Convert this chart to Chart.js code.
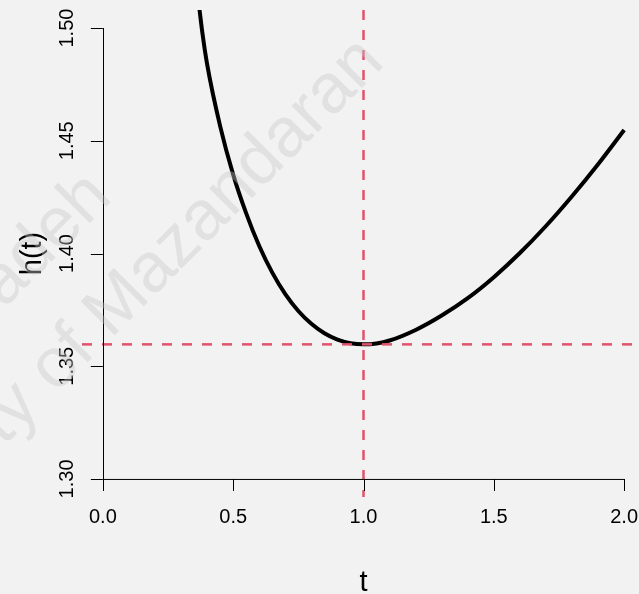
<!DOCTYPE html>
<html>
<head>
<meta charset="utf-8">
<script src="https://cdn.jsdelivr.net/npm/chart.js@4/dist/chart.umd.min.js"></script>
<style>
  html, body { margin: 0; padding: 0; background: #f2f2f2; overflow: hidden; }
  canvas { display: block; }
</style>
</head>
<body>
<canvas id="myChart" width="666" height="594" style="width:666px;height:594px"></canvas>
<script>
// curve h(t), values
var tValues = [0.37, 0.38, 0.40, 0.45, 0.50, 0.55, 0.60, 0.65, 0.70, 0.75, 0.80, 0.85, 0.90, 0.95,
               1.00, 1.05, 1.10, 1.20, 1.30, 1.40, 1.50, 1.60, 1.70, 1.80, 1.90, 2.00];
var hValues = [1.509, 1.4995, 1.484, 1.4565, 1.4350, 1.4178, 1.4033, 1.3915, 1.3820, 1.3745, 1.3688, 1.3646, 1.3618, 1.3602,
               1.3597, 1.3601, 1.3614, 1.3661, 1.3725, 1.3802, 1.3895, 1.4002, 1.4122, 1.4254, 1.4396, 1.4548];

// minimum marked by the dashed lines
var tMin = 1.0;
var hMin = 1.3597;

// axis ticks
var xTicks = [0.0, 0.5, 1.0, 1.5, 2.0];
var xTickLabels = ['0.0', '0.5', '1.0', '1.5', '2.0'];
var yTicks = [1.30, 1.35, 1.40, 1.45, 1.50];
var yTickLabels = ['1.30', '1.35', '1.40', '1.45', '1.50'];

var xRange = [-0.08, 2.08];
var yRange = [1.292, 1.508];

window.onload = function () {
    var curve = tValues.map(function (t, i) { return { x: t, y: hValues[i] }; });

    var red = '#DF536B';
    var font = '"Liberation Sans", Arial, Helvetica, sans-serif';

    var rPlot = {
        id: 'rPlot',
        beforeDraw: function (chart) {
            var c = chart.ctx;
            c.save();
            c.fillStyle = '#f2f2f2';
            c.fillRect(0, 0, chart.width, chart.height);
            c.restore();
        },
        afterDatasetsDraw: function (chart) {
            var c = chart.ctx;
            var xs = chart.scales.x, ys = chart.scales.y;
            var x0 = xs.getPixelForValue(0), yb = ys.getPixelForValue(1.30);
            c.save();
            c.strokeStyle = '#000';
            c.lineWidth = 1;
            c.lineCap = 'butt';

            // x axis drawn at h = 1.30
            c.beginPath();
            c.moveTo(xs.getPixelForValue(xTicks[0]), yb + 0.5);
            c.lineTo(xs.getPixelForValue(xTicks[xTicks.length - 1]), yb + 0.5);
            xTicks.forEach(function (v) {
                var px = Math.round(xs.getPixelForValue(v)) + 0.5;
                c.moveTo(px, yb);
                c.lineTo(px, yb + 12);
            });
            // y axis drawn at t = 0
            c.moveTo(Math.round(x0) + 0.5, ys.getPixelForValue(yTicks[0]));
            c.lineTo(Math.round(x0) + 0.5, ys.getPixelForValue(yTicks[yTicks.length - 1]));
            yTicks.forEach(function (v) {
                var py = Math.round(ys.getPixelForValue(v)) + 0.5;
                c.moveTo(x0, py);
                c.lineTo(x0 - 12, py);
            });
            c.stroke();

            c.fillStyle = '#000';
            c.font = '20px ' + font;
            c.textAlign = 'center';
            c.textBaseline = 'alphabetic';
            xTicks.forEach(function (v, i) {
                c.fillText(xTickLabels[i], xs.getPixelForValue(v), yb + 44);
            });
            yTicks.forEach(function (v, i) {
                c.save();
                c.translate(x0 - 30, ys.getPixelForValue(v));
                c.rotate(-Math.PI / 2);
                c.fillText(yTickLabels[i], 0, 0);
                c.restore();
            });

            // axis titles
            var area = chart.chartArea;
            c.font = '29px ' + font;
            c.fillText('t', (area.left + area.right) / 2, 591);
            c.save();
            c.translate(41, (area.top + area.bottom) / 2);
            c.rotate(-Math.PI / 2);
            c.fillText('h(t)', 0, 0);
            c.restore();
            c.restore();
        },
        afterDraw: function (chart) {
            // faint watermark over the figure
            var c = chart.ctx;
            c.save();
            c.fillStyle = 'rgba(200,200,200,0.4)';
            c.font = '70px ' + font;
            c.textAlign = 'right';
            c.textBaseline = 'alphabetic';
            c.translate(386, 64);
            c.rotate(-Math.PI / 4);
            c.fillText('University of Mazandaran', 0, 0);
            c.fillText('adeh', -288, -97);
            c.restore();
        }
    };

    var ctx = document.getElementById('myChart').getContext('2d');
    var myChart = new Chart(ctx, {
        type: 'scatter',
        data: {
            datasets: [{
                label: 'vline',
                data: [{ x: tMin, y: yRange[1] }, { x: tMin, y: yRange[0] }],
                showLine: true,
                borderColor: red,
                borderWidth: 2.5,
                borderDash: [10, 10],
                pointRadius: 0,
                clip: 0
            },
            {
                label: 'hline',
                data: [{ x: xRange[0], y: hMin }, { x: xRange[1], y: hMin }],
                showLine: true,
                borderColor: red,
                borderWidth: 2.5,
                borderDash: [10, 10],
                pointRadius: 0,
                clip: 0
            },
            {
                label: 'h(t)',
                data: curve,
                showLine: true,
                borderColor: '#000',
                borderWidth: 4,
                cubicInterpolationMode: 'monotone',
                pointRadius: 0,
                clip: 0
            }]
        },
        options: {
            responsive: false,
            animation: false,
            layout: { padding: { left: 82, right: 21, top: 10, bottom: 97 } },
            plugins: { legend: { display: false }, tooltip: { enabled: false } },
            scales: {
                x: { type: 'linear', min: xRange[0], max: xRange[1], display: false },
                y: { type: 'linear', min: yRange[0], max: yRange[1], display: false }
            }
        },
        plugins: [rPlot]
    });
};
</script>
</body>
</html>
